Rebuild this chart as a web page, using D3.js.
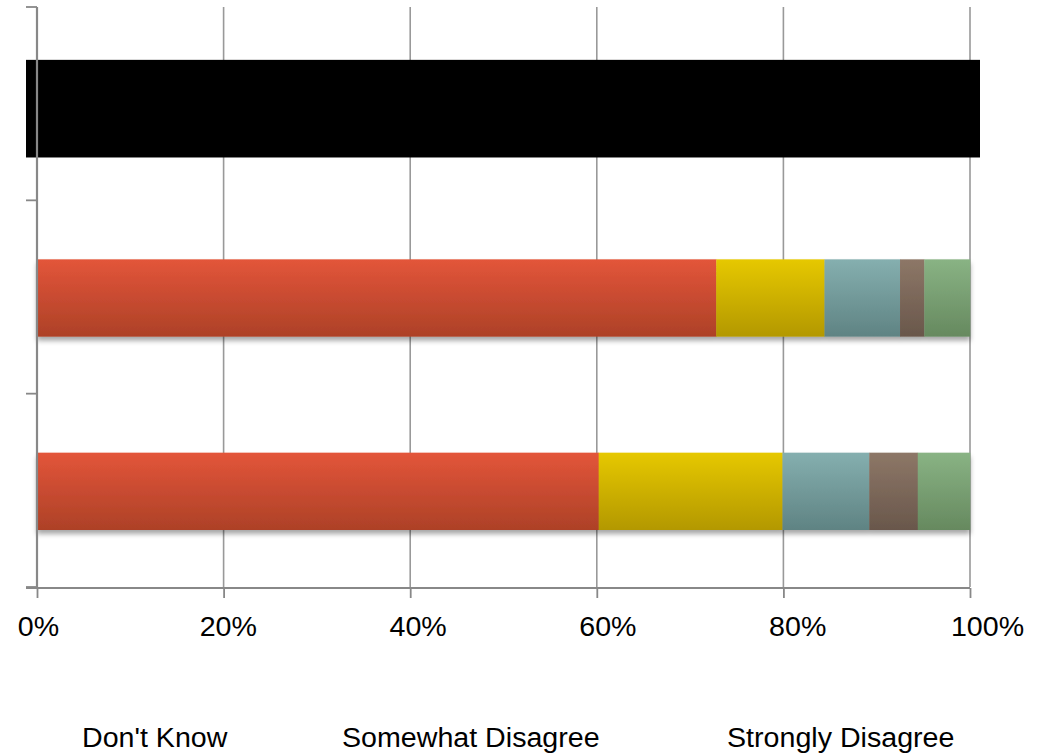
<html lang="en">
  <head>
    <meta charset="UTF-8" />
    <title>Stacked survey bars</title>
    <script src="https://d3js.org/d3.v7.min.js"></script>
  </head>
  <style>
    body {
      margin: 0px;
      overflow: hidden;
      background: #fff;
    }
    text {
      font-family: "Liberation Sans", Arial, sans-serif;
      font-size: 27px;
      fill: #000;
    }
  </style>
  <body>
    <svg width="1048" height="754"></svg>
  </body>
  <footer>
    <script>
      // data (shares, each row sums to ~1)
      var categories = ["Hidden", "Group A", "Group B"];
      var seriesNames = ["Strongly Agree", "Somewhat Agree", "Don't Know", "Somewhat Disagree", "Strongly Disagree"];
      var groupA = [0.728, 0.116, 0.081, 0.026, 0.049];
      var groupB = [0.602, 0.197, 0.093, 0.052, 0.056];
      var xTicks = [0, 0.2, 0.4, 0.6, 0.8, 1];
      var legendLabels = ["Don't Know", "Somewhat Disagree", "Strongly Disagree"];

      var colors = [
        ["#e3553a", "#ad4127"],
        ["#e6c800", "#b39800"],
        ["#85afaf", "#5f8383"],
        ["#8d7767", "#69574b"],
        ["#89b384", "#66895f"]
      ];

      var svg = d3.select("svg");
      var plotLeft = 37, plotRight = 970, plotTop = 7, plotBottom = 587;
      var stretch = 1.06; // the original text is a bit wider than plain Arial

      var xScale = d3.scaleLinear().domain([0, 1]).range([plotLeft, plotRight]);
      var yScale = d3.scaleBand().domain(categories).range([plotTop, plotBottom]).padding(0);
      var bw = yScale.bandwidth();

      // gradients + shadow
      var defs = svg.append("defs");
      colors.forEach(function (c, i) {
        var g = defs.append("linearGradient").attr("id", "g" + i)
          .attr("x1", 0).attr("y1", 0).attr("x2", 0).attr("y2", 1);
        g.append("stop").attr("offset", "0%").attr("stop-color", c[0]);
        g.append("stop").attr("offset", "100%").attr("stop-color", c[1]);
      });
      var f = defs.append("filter").attr("id", "shadow")
        .attr("x", "-5%").attr("y", "-20%").attr("width", "110%").attr("height", "160%");
      f.append("feDropShadow").attr("dx", 0).attr("dy", 4).attr("stdDeviation", 2.5)
        .attr("flood-color", "#000").attr("flood-opacity", 0.35);

      // vertical gridlines
      svg.append("g").selectAll("line").data(xTicks).enter().append("line")
        .attr("x1", function (d) { return xScale(d); })
        .attr("x2", function (d) { return xScale(d); })
        .attr("y1", plotTop).attr("y2", plotBottom)
        .attr("stroke", "#999").attr("stroke-width", 1.6);

      // stacked bars
      var rows = [
        { cat: "Group A", vals: groupA },
        { cat: "Group B", vals: groupB }
      ];
      var barH = bw * 0.4;
      rows.forEach(function (r) {
        var stack = [];
        var acc = 0;
        r.vals.forEach(function (v, i) {
          stack.push({ x0: acc, x1: acc + v, i: i });
          acc += v;
        });
        var y0 = yScale(r.cat) + bw / 2 - barH / 2 + 1;
        var g = svg.append("g").attr("filter", "url(#shadow)");
        g.selectAll("rect").data(stack).enter().append("rect")
          .attr("x", function (d) { return xScale(d.x0); })
          .attr("width", function (d) { return xScale(d.x1) - xScale(d.x0) + 0.3; })
          .attr("y", y0)
          .attr("height", barH)
          .attr("fill", function (d) { return "url(#g" + d.i + ")"; });
      });

      // the top row is blacked out in the original
      var hiddenH = bw * 0.505;
      svg.append("rect")
        .attr("x", xScale(0) - 11)
        .attr("width", xScale(1) - xScale(0) + 21)
        .attr("y", yScale("Hidden") + bw / 2 - hiddenH / 2 + 5)
        .attr("height", hiddenH)
        .attr("fill", "#000");

      // y axis
      var yAxis = svg.append("g");
      yAxis.append("line").attr("x1", plotLeft).attr("x2", plotLeft)
        .attr("y1", plotTop).attr("y2", plotBottom + 1)
        .attr("stroke", "#888").attr("stroke-width", 2.2);
      var yEdges = categories.map(function (c) { return yScale(c); }).concat([plotBottom]);
      yAxis.selectAll("line.tick").data(yEdges).enter().append("line")
        .attr("class", "tick")
        .attr("x1", plotLeft - 11).attr("x2", plotLeft)
        .attr("y1", function (d) { return d; }).attr("y2", function (d) { return d; })
        .attr("stroke", "#888").attr("stroke-width", 1.8);

      // x axis
      var xAxis = d3.axisBottom(xScale).tickValues(xTicks)
        .tickFormat(d3.format(".0%")).tickSize(10).tickSizeOuter(0);
      var xg = svg.append("g").attr("transform", "translate(0," + (plotBottom + 1) + ")").call(xAxis);
      xg.select(".domain").remove();
      xg.append("line").attr("x1", plotLeft - 11).attr("x2", plotRight)
        .attr("stroke", "#888").attr("stroke-width", 2.2);
      xg.selectAll(".tick line").attr("stroke", "#888").attr("stroke-width", 1.8);
      xg.selectAll(".tick text")
        .attr("y", null).attr("dy", null)
        .attr("transform", function (d) {
          return "translate(" + (1 + 16 * d) + ",48) scale(" + stretch + ",1)";
        })
        .style("font-size", "27px")
        .style("font-family", "'Liberation Sans', Arial, sans-serif")
        .attr("fill", "#000");

      // legend (only the visible row)
      var legendX = [82, 342, 727];
      svg.append("g").selectAll("text").data(legendLabels).enter().append("text")
        .attr("transform", function (d, i) {
          return "translate(" + legendX[i] + ",747) scale(" + stretch + ",1)";
        })
        .text(function (d) { return d; });
    </script>
  </footer>
</html>
